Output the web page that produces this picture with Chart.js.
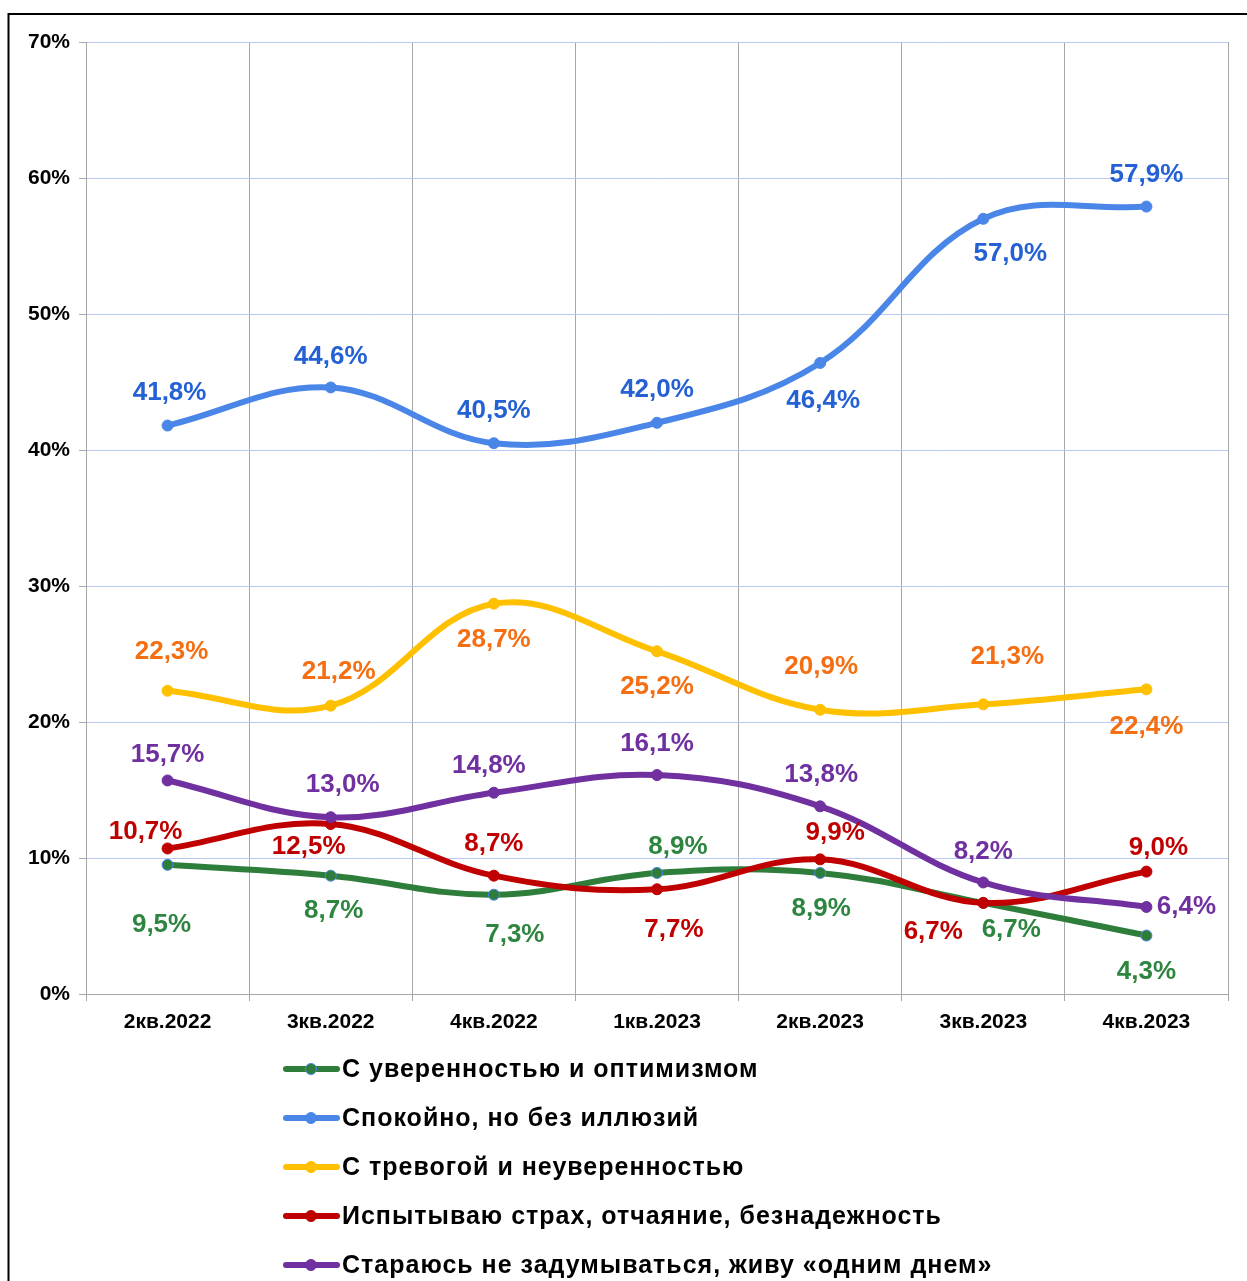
<!DOCTYPE html>
<html><head><meta charset="utf-8">
<script src="https://cdn.jsdelivr.net/npm/chart.js@4.4.1/dist/chart.umd.min.js"></script>
<style>html,body{margin:0;padding:0;background:#fff;overflow:hidden}#c{display:block}</style>
</head><body>
<canvas id="c" width="1247" height="1281"></canvas>
<script>
// ---- data ----
const categories = ['2кв.2022','3кв.2022','4кв.2022','1кв.2023','2кв.2023','3кв.2023','4кв.2023'];
const seriesNames = [
  'С уверенностью и оптимизмом',
  'Спокойно, но без иллюзий',
  'С тревогой и неуверенностью',
  'Испытываю страх, отчаяние, безнадежность',
  'Стараюсь не задумываться, живу «одним днем»'
];
const optimism = [9.5, 8.7, 7.3, 8.9, 8.9, 6.7, 4.3];
const calm     = [41.8, 44.6, 40.5, 42.0, 46.4, 57.0, 57.9];
const anxiety  = [22.3, 21.2, 28.7, 25.2, 20.9, 21.3, 22.4];
const fear     = [10.7, 12.5, 8.7, 7.7, 9.9, 6.7, 9.0];
const dayByDay = [15.7, 13.0, 14.8, 16.1, 13.8, 8.2, 6.4];
const yTickValues = [0, 10, 20, 30, 40, 50, 60, 70];

// ---- styles ----
const FONT = '"Liberation Sans", Arial, sans-serif';
const lineColors  = ['#2e7d3a', '#4a86e8', '#ffc000', '#c00000', '#7030a0'];
const labelColors = ['#2e8540', '#2461d4', '#f56f12', '#c00000', '#7030a0'];
const markerBorders = ['#4a86e8', '#4a86e8', '#ffc000', '#c00000', '#7030a0'];
// label offsets (px) relative to each point
const labelOffsets = [
  [[-6,60],[3,35],[21,40],[21,-26],[1,36],[28,27],[0,36]],
  [[2,-33],[0,-31],[0,-32],[0,-33],[3,38],[27,35],[0,-32]],
  [[4,-39],[8,-34],[0,36],[0,36],[1,-43],[24,-47],[0,37]],
  [[-22,-17],[-22,23],[0,-32],[17,41],[15,-27],[-50,29],[12,-24]],
  [[0,-26],[12,-32],[-5,-27],[0,-31],[1,-31],[0,-31],[40,0]]
];
const seriesData = [optimism, calm, anxiety, fear, dayByDay];
const fmt = v => v.toFixed(1).replace('.', ',') + '%';

const datasets = seriesData.map((d, i) => ({
  label: seriesNames[i],
  data: d,
  borderColor: lineColors[i],
  backgroundColor: lineColors[i],
  pointBackgroundColor: lineColors[i],
  pointBorderColor: markerBorders[i],
  pointBorderWidth: 1,
  pointRadius: 5.5,
  borderWidth: 6,
  borderCapStyle: 'round',
  borderJoinStyle: 'round',
  tension: 0.38,
  fill: false,
  order: 5 - i
}));

const framePlugin = {
  id: 'frame',
  beforeDraw(chart) {
    const ctx = chart.ctx;
    ctx.save();
    ctx.fillStyle = '#fff';
    ctx.fillRect(0, 0, chart.width, chart.height);
    ctx.strokeStyle = '#000';
    ctx.lineWidth = 2;
    ctx.beginPath();
    ctx.moveTo(8.5, 1281);
    ctx.lineTo(8.5, 14);
    ctx.lineTo(1247, 14);
    ctx.stroke();
    ctx.restore();
  }
};

const labelPlugin = {
  id: 'pointLabels',
  afterDatasetsDraw(chart) {
    const ctx = chart.ctx;
    ctx.save();
    ctx.font = 'bold 26px ' + FONT;
    ctx.textAlign = 'center';
    ctx.textBaseline = 'middle';
    chart.data.datasets.forEach((ds, i) => {
      const meta = chart.getDatasetMeta(i);
      meta.data.forEach((pt, j) => {
        const off = labelOffsets[i][j];
        ctx.fillStyle = labelColors[i];
        ctx.fillText(fmt(ds.data[j]), pt.x + off[0], pt.y + off[1]);
      });
    });
    ctx.restore();
  }
};

const legendPlugin = {
  id: 'customLegend',
  afterDraw(chart) {
    const ctx = chart.ctx;
    ctx.save();
    ctx.font = 'bold 25px ' + FONT;
    ctx.textBaseline = 'middle';
    ctx.textAlign = 'left';
    if ('letterSpacing' in ctx) ctx.letterSpacing = '1px';
    chart.data.datasets.forEach((ds, i) => {
      const y = 1069 + i * 49;
      ctx.strokeStyle = lineColors[i];
      ctx.lineWidth = 6;
      ctx.lineCap = 'round';
      ctx.beginPath();
      ctx.moveTo(286, y);
      ctx.lineTo(337, y);
      ctx.stroke();
      ctx.beginPath();
      ctx.arc(311, y, 5.5, 0, Math.PI * 2);
      ctx.fillStyle = lineColors[i];
      ctx.fill();
      ctx.lineWidth = 1;
      ctx.strokeStyle = markerBorders[i];
      ctx.stroke();
      ctx.fillStyle = '#000';
      ctx.fillText(ds.label, 342, y + 1);
    });
    ctx.restore();
  }
};

new Chart(document.getElementById('c'), {
  type: 'line',
  data: { labels: categories, datasets },
  plugins: [framePlugin, labelPlugin, legendPlugin],
  options: {
    responsive: false,
    animation: false,
    devicePixelRatio: 1,
    layout: { padding: { left: 0, top: 42, right: 19, bottom: 237 } },
    plugins: { legend: { display: false }, tooltip: { enabled: false } },
    scales: {
      x: {
        offset: true,
        grid: { offset: true, color: '#a6a6a6', lineWidth: 1, tickLength: 7, tickColor: '#a6a6a6' },
        border: { color: '#a6a6a6', width: 1 },
        ticks: { font: { family: FONT, size: 21, weight: 'bold' }, color: '#000', padding: 9, maxRotation: 0 },
        afterFit(s) { s.height = 50; }
      },
      y: {
        min: 0, max: 70,
        afterBuildTicks(s) { s.ticks = yTickValues.map(v => ({ value: v })); },
        grid: { color: '#b7c9f2', lineWidth: 1, tickLength: 7, tickColor: '#a6a6a6' },
        border: { color: '#a6a6a6', width: 1 },
        ticks: { font: { family: FONT, size: 21, weight: 'bold' }, color: '#000', padding: 9, callback: v => v + '%' },
        afterFit(s) { s.width = 86; }
      }
    }
  }
});
</script>
</body></html>
